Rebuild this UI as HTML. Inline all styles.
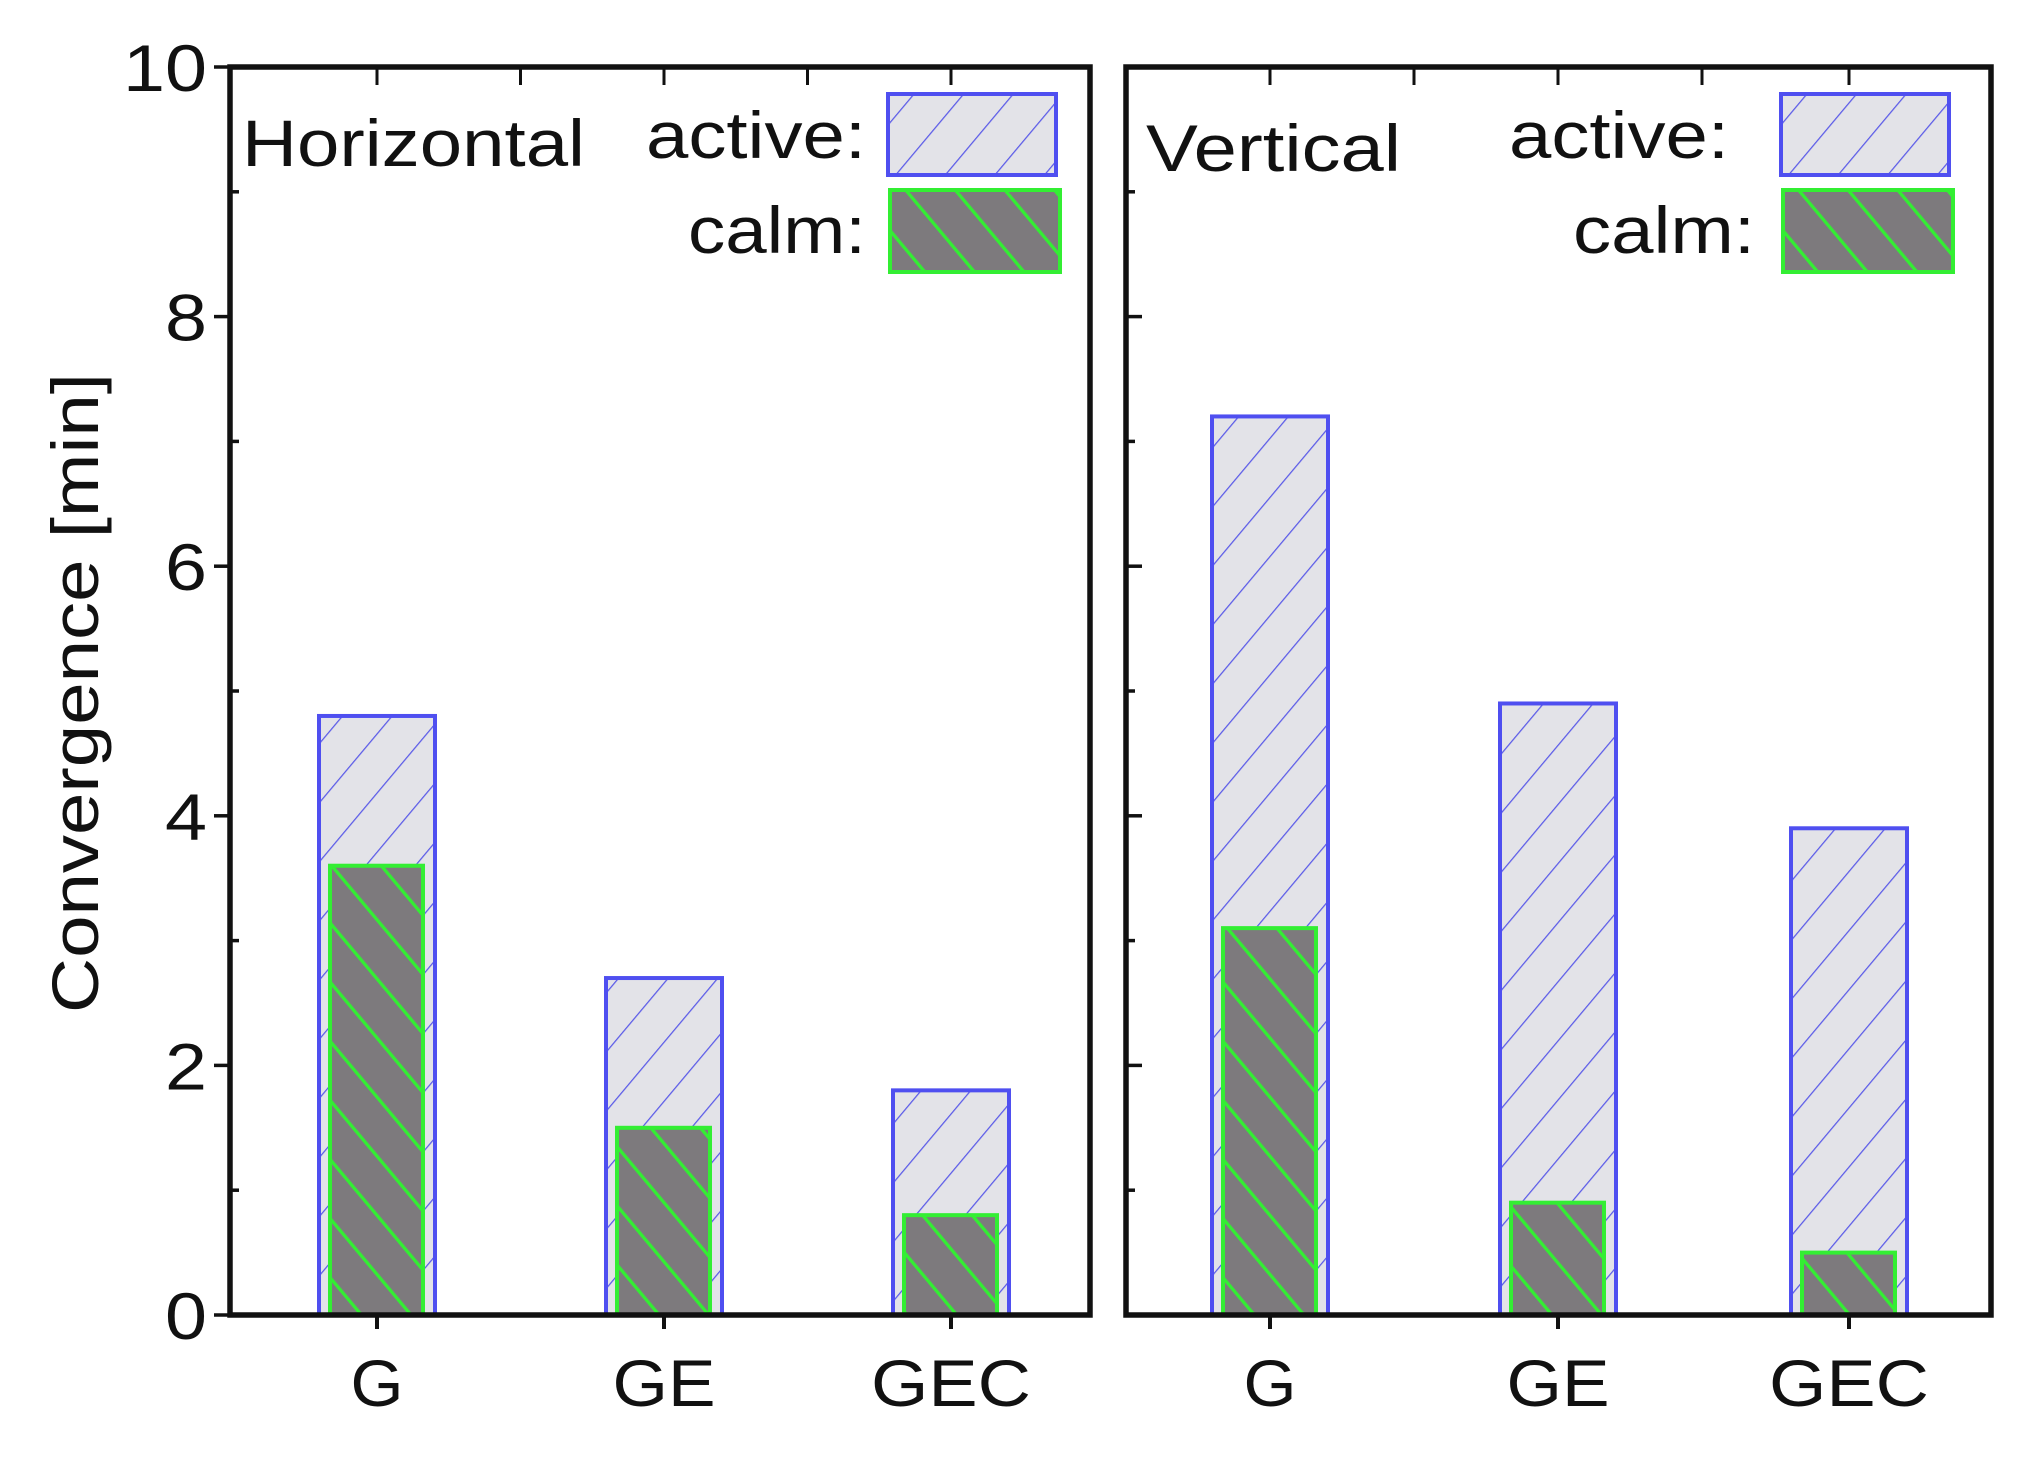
<!DOCTYPE html>
<html><head><meta charset="utf-8"><style>
body{margin:0;background:#fff;}
svg{display:block;font-family:"Liberation Sans",Arial,sans-serif;}
</style></head><body>
<svg id="chart" width="2025" height="1458" viewBox="0 0 2025 1458" xmlns="http://www.w3.org/2000/svg">
<defs>
<pattern id="pA" patternUnits="userSpaceOnUse" width="38" height="38" patternTransform="rotate(40)">
<rect width="38" height="38" fill="#e3e3e8"/><line x1="0" y1="0" x2="0" y2="38" stroke="#5a5ae8" stroke-width="2.5"/></pattern>
<pattern id="pC" patternUnits="userSpaceOnUse" width="38" height="38" patternTransform="rotate(-40)">
<rect width="38" height="38" fill="#7d7a7d"/><line x1="0" y1="0" x2="0" y2="38" stroke="#33ee33" stroke-width="6.5"/></pattern>
</defs>
<g id="g"></g>
</svg>
<script>
const categories=["G","GE","GEC"];
const panels=["Horizontal","Vertical"];
const activeH=[4.8,2.7,1.8];
const calmH=[3.6,1.5,0.8];
const activeV=[7.2,4.9,3.9];
const calmV=[3.1,0.9,0.5];
const yTicks=[0,2,4,6,8,10];
const NS="http://www.w3.org/2000/svg";
const g=document.getElementById('g');
function el(t,a,txt){const e=document.createElementNS(NS,t);for(const k in a)e.setAttribute(k,a[k]);if(txt!==undefined)e.textContent=txt;g.appendChild(e);return e;}
const FS=66;
const yTop=67,yBot=1315;
function y(v){return yBot-(v/10)*(yBot-yTop);}
const labW={"G":53,"GE":103,"GEC":160};
const frames=[{x0:230,x1:1090,centers:[377,664,951],act:activeH,calm:calmH,tx:242,tw:343,ax:866,aw:220,cx:866,cw:178,lx:888},
{x0:1126,x1:1991,centers:[1270,1558,1849],act:activeV,calm:calmV,tx:1146,tw:255,ax:1729,aw:220,cx:1755,cw:182,lx:1781}];
frames.forEach((f,pi)=>{
 f.centers.forEach((c,i)=>{
  let r=el('rect',{x:c-58,y:y(f.act[i]),width:116,height:yBot-y(f.act[i]),fill:'url(#pA)',stroke:'#4f4ff0','stroke-width':4});
  
  
  let q=el('rect',{x:c-47,y:y(f.calm[i]),width:93,height:yBot-y(f.calm[i]),fill:'url(#pC)',stroke:'#33ee33','stroke-width':4});
  
  
  let t=el('text',{x:c,y:1406,'font-size':FS,'text-anchor':'middle',fill:'#111',textLength:labW[categories[i]],lengthAdjust:'spacingAndGlyphs'},categories[i]);
  
  
  el('line',{x1:c,y1:yBot,x2:c,y2:yBot+14,stroke:'#111','stroke-width':4});
  el('line',{x1:c,y1:yTop,x2:c,y2:yTop+18,stroke:'#111','stroke-width':3});
  if(i<2)el('line',{x1:c+(f.centers[1]-f.centers[0])/2,y1:yTop,x2:c+(f.centers[1]-f.centers[0])/2,y2:yTop+18,stroke:'#111','stroke-width':3});
 });
 const fr=el('rect',{x:f.x0,y:yTop,width:f.x1-f.x0,height:yBot-yTop,fill:'none',stroke:'#111','stroke-width':5.5});
 
 
 for(let v=0;v<=10;v++){
  const len=v%2===0?16:9;
  if(pi===0) el('line',{x1:f.x0-(v%2===0?len:0),y1:y(v),x2:f.x0+(v%2===0?0:len),y2:y(v),stroke:'#111','stroke-width':3.5});
  else el('line',{x1:f.x0,y1:y(v),x2:f.x0+len,y2:y(v),stroke:'#111','stroke-width':3.5});
 }
 const tt=el('text',{x:f.tx,y:pi===0?166:171,'font-size':FS,fill:'#111',textLength:f.tw,lengthAdjust:'spacingAndGlyphs'},panels[pi]);
 
 
 const la=el('text',{x:f.ax-f.aw,y:158,'font-size':FS,fill:'#111',textLength:f.aw,lengthAdjust:'spacingAndGlyphs'},'active:');
 
 
 const lc=el('text',{x:f.cx-f.cw,y:253,'font-size':FS,fill:'#111',textLength:f.cw,lengthAdjust:'spacingAndGlyphs'},'calm:');
 
 
 const ra=el('rect',{x:f.lx,y:94,width:168,height:81,fill:'url(#pA)',stroke:'#4f4ff0','stroke-width':4});
 
 
 const rc=el('rect',{x:f.lx+2,y:190,width:170,height:82,fill:'url(#pC)',stroke:'#33ee33','stroke-width':4});
 
 
});
yTicks.forEach(v=>{
 const w=String(v).length*42;
 const t=el('text',{x:207-w,y:y(v)+24,'font-size':FS,fill:'#111',textLength:w,lengthAdjust:'spacingAndGlyphs'},String(v));
 
 
});
const yt=el('text',{x:-320,y:0,'font-size':FS,fill:'#111',transform:'translate(98,693) rotate(-90)',textLength:640,lengthAdjust:'spacingAndGlyphs'},'Convergence [min]');


</script>
</body></html>
